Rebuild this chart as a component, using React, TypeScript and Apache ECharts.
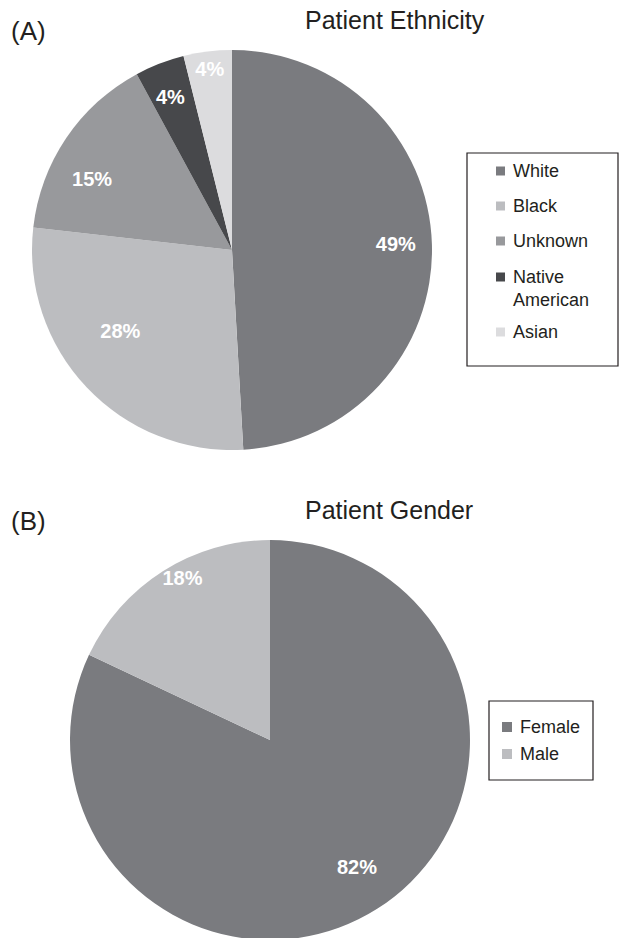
import React, { useEffect, useRef } from "react";
import * as echarts from "echarts";

// ---- data ----
const ethnicityCategories = ["White", "Black", "Unknown", "Native American", "Asian"];
const ethnicityValues = [49.1, 27.7, 15.3, 4.0, 3.9];
const genderCategories = ["Female", "Male"];
const genderValues = [82, 18];

// ---- styling ----
const FONT = "'Liberation Sans', Arial, Helvetica, sans-serif";
const TEXT = "#231f20";
const ethnicityColors = ["#7a7b7f", "#bcbdc0", "#98999c", "#47484b", "#dcdcde"];
const genderColors = ["#7a7b7f", "#bcbdc0"];
const ethLabelR = [0.82, 0.69, 0.785, 0.825, 0.91];
const ethLabelDA = [-0.5, 7.4, -7, -0.7, 0];
const genLabelR = [0.77, 0.92];
const genLabelDA = [-2, 4];
const PIE_R = 200;
const CENTER_A = [232, 250];
const CENTER_B = [270, 740];

function labelPos(values: number[], idx: number, center: number[], rFrac: number[], dA: number[]) {
  const total = values.reduce((a, b) => a + b, 0);
  let cum = 0;
  for (let i = 0; i < idx; i++) cum += values[i];
  const mid = ((cum + values[idx] / 2) / total) * 360 + dA[idx];
  const rad = (mid * Math.PI) / 180;
  const r = PIE_R * rFrac[idx];
  return { x: center[0] + r * Math.sin(rad), y: center[1] - r * Math.cos(rad) };
}

export default function App() {
  const ref = useRef<HTMLDivElement>(null);
  useEffect(() => {
    if (!ref.current) return;
    const chart = echarts.init(ref.current, undefined, { renderer: "svg" });
    const labelStyle = {
      show: true,
      position: "inside",
      color: "#ffffff",
      fontFamily: FONT,
      fontWeight: "bold",
      fontSize: 20,
      formatter: (p: any) => Math.round(p.value) + "%",
    };
    const richLine = { fontFamily: FONT, fontSize: 18, lineHeight: 23, color: TEXT };
    const legendText = {
      fontFamily: FONT,
      fontSize: 18,
      lineHeight: 18,
      color: TEXT,
      padding: [0, 0, 0, 3],
      rich: { s: richLine, n: richLine },
    };
    const legendBase = {
      orient: "vertical",
      padding: 0,
      icon: "rect",
      selectedMode: false,
      textStyle: legendText,
    };
    chart.setOption({
      animation: false,
      backgroundColor: "#ffffff",
      title: [
        { text: "Patient Ethnicity", left: 305, top: 7, padding: 0, textStyle: { fontFamily: FONT, fontSize: 25, fontWeight: "normal", color: TEXT } },
        { text: "(A)", left: 11, top: 18, padding: 0, textStyle: { fontFamily: FONT, fontSize: 26, fontWeight: "normal", color: TEXT } },
        { text: "Patient Gender", left: 305, top: 497, padding: 0, textStyle: { fontFamily: FONT, fontSize: 25, fontWeight: "normal", color: TEXT } },
        { text: "(B)", left: 11, top: 508, padding: 0, textStyle: { fontFamily: FONT, fontSize: 26, fontWeight: "normal", color: TEXT } },
      ],
      legend: [
        {
          ...legendBase,
          left: 496,
          top: 162,
          itemWidth: 9,
          itemHeight: 9,
          itemGap: 17,
          data: ethnicityCategories.slice(0, 3),
        },
        {
          ...legendBase,
          left: 496,
          top: 242.5,
          itemWidth: 9,
          itemHeight: 9,
          itemGap: 11.5,
          formatter: (n: string) => (n === "Native American" ? "{s| }\n{n|Native}\n{n|American}" : n),
          data: ethnicityCategories.slice(3),
        },
        {
          ...legendBase,
          left: 502,
          top: 718,
          itemWidth: 10,
          itemHeight: 10,
          itemGap: 9,
          data: genderCategories,
        },
      ],
      graphic: [
        { type: "rect", shape: { x: 467, y: 153, width: 151, height: 213 }, style: { fill: "none", stroke: TEXT, lineWidth: 1.2 } },
        { type: "rect", shape: { x: 489, y: 701, width: 104, height: 79 }, style: { fill: "none", stroke: TEXT, lineWidth: 1.2 } },
      ],
      series: [
        {
          type: "pie",
          center: CENTER_A,
          radius: [0, PIE_R],
          startAngle: 90,
          clockwise: true,
          silent: true,
          itemStyle: { borderWidth: 0 },
          label: labelStyle,
          labelLine: { show: false },
          labelLayout: (p: any) => {
            const pos = labelPos(ethnicityValues, p.dataIndex, CENTER_A, ethLabelR, ethLabelDA);
            return { x: pos.x, y: pos.y, align: "center", verticalAlign: "middle" };
          },
          data: ethnicityCategories.map((n, i) => ({ name: n, value: ethnicityValues[i], itemStyle: { color: ethnicityColors[i] } })),
        },
        {
          type: "pie",
          center: CENTER_B,
          radius: [0, PIE_R],
          startAngle: 90,
          clockwise: true,
          silent: true,
          itemStyle: { borderWidth: 0 },
          label: labelStyle,
          labelLine: { show: false },
          labelLayout: (p: any) => {
            const pos = labelPos(genderValues, p.dataIndex, CENTER_B, genLabelR, genLabelDA);
            return { x: pos.x, y: pos.y, align: "center", verticalAlign: "middle" };
          },
          data: genderCategories.map((n, i) => ({ name: n, value: genderValues[i], itemStyle: { color: genderColors[i] } })),
        },
      ],
    });
    return () => chart.dispose();
  }, []);
  return <div ref={ref} style={{ position: "absolute", left: 0, top: 0, width: 620, height: 938 }} />;
}
